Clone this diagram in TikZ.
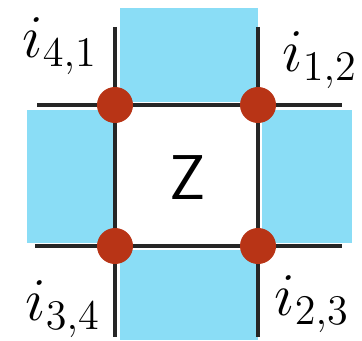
\documentclass[tikz,border=0pt]{standalone}
\usepackage{amsmath,amssymb}
\usepackage{tikz}
\usetikzlibrary{arrows.meta,positioning,calc}
\definecolor{tileblue}{RGB}{138,221,246}
\definecolor{dotred}{RGB}{184,52,22}

\begin{document}
\begin{tikzpicture}[x=0.01cm,y=-0.01cm,
  dot/.style={circle,fill=dotred,minimum size=0.36cm,inner sep=0pt},
  edge/.style={line width=0.9pt,black!85},
  lab/.style={font=\fontsize{17}{20}\selectfont}]
\useasboundingbox (0,0) rectangle (362,340);
\fill[tileblue] (120,8)   rectangle (258,102);
\fill[tileblue] (27,110)  rectangle (113,243);
\fill[tileblue] (262,110) rectangle (352,243);
\fill[tileblue] (120,250) rectangle (258,340);
\coordinate (t1) at (115,27);
\coordinate (t2) at (258,27);
\coordinate (b1) at (115,337);
\coordinate (b2) at (258,337);
\coordinate (l1) at (37,105);
\coordinate (l2) at (35,246);
\coordinate (r1) at (342,105);
\coordinate (r2) at (342,246);
\draw[edge] (t1) -- (b1);
\draw[edge] (t2) -- (b2);
\draw[edge] (l1) -- (r1);
\draw[edge] (l2) -- (r2);
\node[dot] (i41) at (115,105) {};
\node[dot] (i12) at (258,105) {};
\node[dot] (i34) at (115,246) {};
\node[dot] (i23) at (258,246) {};
\node[font=\sffamily\fontsize{18}{20}\selectfont] (z) at (188,178) {Z};
\node[lab] at (60,46)  {$i_{4,1}$};
\node[lab] at (320,60) {$i_{1,2}$};
\node[lab] at (63,309) {$i_{3,4}$};
\node[lab] at (312,304) {$i_{2,3}$};
\end{tikzpicture}
\end{document}
